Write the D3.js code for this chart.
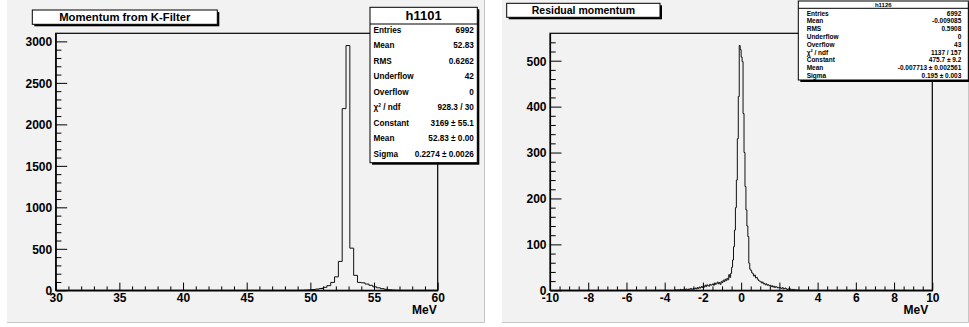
<!DOCTYPE html>
<html><head><meta charset="utf-8">
<script src="https://cdn.jsdelivr.net/npm/d3@7"></script>
<style>
body{margin:0;background:#fff;}
svg{display:block;font-family:"Liberation Sans",Arial,Helvetica,sans-serif;font-weight:bold;}
</style>
</head><body>
<svg id="c" width="969" height="327"></svg>
<script>
// ---- h1101: momentum from the K-filter, 100 bins of 0.3 MeV on [30, 60]
const kfRange = [30, 60];
const kfBinWidth = 0.3;
const kfFirstBin = 49.2;            // lower edge of the first filled bin
const kfCounts = [1,3,5,9,15,22,36,56,95,162,348,2190,2950,508,180,95,90,75,60,42,30,20,12,6,3,1];
const kfXTicks = [30,35,40,45,50,55,60];
const kfYTicks = [0,500,1000,1500,2000,2500,3000];
const kfStatLabels = ["Entries","Mean","RMS","Underflow","Overflow","χ² / ndf","Constant","Mean","Sigma"];
const kfStatValues = ["6992","52.83","0.6262","42","0","928.3 / 30","3169 ± 55.1","52.83 ± 0.00","0.2274 ± 0.0026"];

// ---- h1126: residual momentum, 400 bins of 0.05 MeV on [-10, 10]
const resRange = [-10, 10];
const resBinWidth = 0.05;
const resFirstBin = -3.5;
const resCounts = [
  0,1,0,1,1,0,2,1,1,2,
  2,1,3,2,1,3,2,4,2,3,
  4,3,5,3,6,4,7,5,8,6,
  9,7,11,8,12,10,9,13,11,12,
  14,11,16,13,15,18,14,17,13,19,
  17,22,19,24,21,26,23,34,28,37,
  50,66,95,131,180,240,330,422,533,524,508,498,385,300,226,175,140,117,59,46,
  43,38,36,31,33,27,28,24,21,20,
  19,16,18,14,15,12,14,11,12,10,
  11,8,10,7,9,6,8,7,5,6,
  6,5,4,6,3,4,5,3,2,3,
  2,3,1,2,1,2,0,1,1,0
];
const resXTicks = [-10,-8,-6,-4,-2,0,2,4,6,8,10];
const resYTicks = [0,100,200,300,400,500];
const resStatLabels = ["Entries","Mean","RMS","Underflow","Overflow","χ² / ndf","Constant","Mean","Sigma"];
const resStatValues = ["6992","-0.009085","0.5908","0","43","1137 / 157","475.7 ± 9.2","-0.007713 ± 0.002561","0.195 ± 0.003"];

const svg = d3.select("#c");
const plain = d => String(d);   // tick labels with an ASCII hyphen for negatives

// expand the filled bins into a full set of bin contents
function fullBins(range, width, first, counts) {
  const n = Math.round((range[1] - range[0]) / width);
  const off = Math.round((first - range[0]) / width);
  const out = new Array(n).fill(0);
  counts.forEach((c, i) => { out[off + i] = c; });
  return out;
}

function drawPanel(o) {
  const g = svg.append("g");
  // pad
  g.append("rect").attr("x", o.pad[0]).attr("y", 0)
    .attr("width", o.pad[1] - o.pad[0]).attr("height", o.pad[2])
    .attr("fill", "#f2f2f2");
  g.append("path")
    .attr("d", `M${o.pad[0]},${o.pad[2] - 0.5}H${o.pad[1] - 0.5}V0`)
    .attr("fill", "none").attr("stroke", "#c6c6c6").attr("stroke-width", 1);

  const f = o.frame;
  const bins = fullBins(o.range, o.bw, o.first, o.counts);
  const ymax = 1.05 * d3.max(o.counts);
  const x = d3.scaleLinear().domain(o.range).range([f.l, f.r]);
  const y = d3.scaleLinear().domain([0, ymax]).range([f.b, f.t]);

  // histogram outline
  const pts = [[o.range[0], 0]];
  bins.forEach((c, i) => {
    const lo = o.range[0] + i * o.bw;
    pts.push([lo, c], [lo + o.bw, c]);
  });
  pts.push([o.range[1], 0]);
  g.append("path")
    .attr("d", d3.line().x(d => x(d[0])).y(d => y(d[1]))(pts))
    .attr("fill", "none").attr("stroke", "#111").attr("stroke-width", 1);

  // frame
  g.append("rect").attr("x", f.l).attr("y", f.t)
    .attr("width", f.r - f.l).attr("height", f.b - f.t)
    .attr("fill", "none").attr("stroke", "#000").attr("stroke-width", 1.2);

  const fs = 12;
  // minor ticks
  const yMinor = d3.range(0, ymax, o.yMinorStep).filter(v => !o.yTicks.includes(v));
  const xMinor = d3.range(o.range[0], o.range[1] + 1e-9, o.xMinorStep)
    .map(v => +v.toFixed(6)).filter(v => !o.xTicks.includes(v));
  g.append("g").attr("transform", `translate(${f.l},0)`)
    .call(d3.axisLeft(y).tickValues(yMinor).tickSize(-5.7).tickSizeOuter(0).tickFormat(""))
    .call(s => s.select(".domain").remove())
    .selectAll("line").attr("stroke", "#000");
  g.append("g").attr("transform", `translate(0,${f.b})`)
    .call(d3.axisBottom(x).tickValues(xMinor).tickSize(-3.9).tickSizeOuter(0).tickFormat(""))
    .call(s => s.select(".domain").remove())
    .selectAll("line").attr("stroke", "#000");

  // major ticks + labels
  const ya = g.append("g").attr("transform", `translate(${f.l},0)`)
    .call(d3.axisLeft(y).tickValues(o.yTicks).tickSize(-11.5).tickSizeOuter(0).tickPadding(3.5).tickFormat(plain));
  ya.select(".domain").attr("stroke", "#000").attr("stroke-width", 1.2);
  ya.selectAll("line").attr("stroke", "#000");
  ya.selectAll("text").attr("font-size", fs).attr("fill", "#000").attr("dy", "0.36em");
  const xa = g.append("g").attr("transform", `translate(0,${f.b})`)
    .call(d3.axisBottom(x).tickValues(o.xTicks).tickSize(-7.7).tickSizeOuter(0).tickPadding(3).tickFormat(plain));
  xa.select(".domain").attr("stroke", "#000").attr("stroke-width", 1.2);
  xa.selectAll("line").attr("stroke", "#000");
  xa.selectAll("text").attr("font-size", fs).attr("fill", "#000");
  ya.attr("font-family", null); xa.attr("font-family", null);

  g.append("text").attr("x", f.r - o.unitInset).attr("y", f.b + 24)
    .attr("text-anchor", "end").attr("font-size", fs).text("MeV");

  // title box
  const t = o.title;
  g.append("rect").attr("x", t.x + 2).attr("y", t.y + 2).attr("width", t.w).attr("height", t.h).attr("fill", "#000");
  g.append("rect").attr("x", t.x).attr("y", t.y).attr("width", t.w).attr("height", t.h)
    .attr("fill", "#fff").attr("stroke", "#000").attr("stroke-width", 1);
  g.append("text").attr("x", t.x + t.w / 2).attr("y", t.y + t.h / 2 + t.fs * 0.36)
    .attr("text-anchor", "middle").attr("font-size", t.fs).text(o.titleText);

  // statistics box
  const s = o.stats;
  g.append("rect").attr("x", s.x + 2).attr("y", s.y + 2).attr("width", s.w).attr("height", s.h).attr("fill", "#000");
  g.append("rect").attr("x", s.x).attr("y", s.y).attr("width", s.w).attr("height", s.h)
    .attr("fill", "#fff").attr("stroke", "#000").attr("stroke-width", 1);
  g.append("line").attr("x1", s.x).attr("x2", s.x + s.w).attr("y1", s.y + s.head).attr("y2", s.y + s.head)
    .attr("stroke", "#000");
  g.append("text").attr("x", s.x + s.w / 2).attr("y", s.y + s.head / 2 + s.tfs * 0.36)
    .attr("text-anchor", "middle").attr("font-size", s.tfs).text(o.name);
  o.statLabels.forEach((lab, i) => {
    const cy = s.row0 + i * s.step + s.fs * 0.36;
    const tl = g.append("text").attr("x", s.x + s.padL).attr("y", cy).attr("font-size", s.fs);
    if (lab.startsWith("χ")) {
      tl.append("tspan").text("χ");
      tl.append("tspan").attr("dy", -s.fs * 0.4).attr("font-size", s.fs * 0.6).text("2");
      tl.append("tspan").attr("dy", s.fs * 0.4).text(" / ndf");
    } else tl.text(lab);
    g.append("text").attr("x", s.x + s.w - s.padR).attr("y", cy)
      .attr("text-anchor", "end").attr("font-size", s.fs).text(o.statValues[i]);
  });
}

drawPanel({
  name: "h1101", titleText: "Momentum from K-Filter",
  range: kfRange, bw: kfBinWidth, first: kfFirstBin, counts: kfCounts,
  xTicks: kfXTicks, yTicks: kfYTicks, xMinorStep: 1, yMinorStep: 100,
  statLabels: kfStatLabels, statValues: kfStatValues,
  pad: [7, 485, 323],
  frame: {l: 55.7, t: 33.3, r: 437.7, b: 290.3},
  unitInset: 1,
  title: {x: 32.3, y: 10, w: 185, h: 14.3, fs: 11.3},
  stats: {x: 370, y: 7.3, w: 107.3, h: 155.4, head: 16.7, tfs: 13, fs: 8.2,
          row0: 30, step: 15.5, padL: 3.5, padR: 3.5}
});

drawPanel({
  name: "h1126", titleText: "Residual momentum",
  range: resRange, bw: resBinWidth, first: resFirstBin, counts: resCounts,
  xTicks: resXTicks, yTicks: resYTicks, xMinorStep: 0.5, yMinorStep: 20,
  statLabels: resStatLabels, statValues: resStatValues,
  pad: [502, 969, 323],
  frame: {l: 550, t: 33.3, r: 932.3, b: 290.3},
  unitInset: 4,
  title: {x: 506.7, y: 3.3, w: 153.3, h: 14, fs: 10.5},
  stats: {x: 798.3, y: 1, w: 170, h: 79, head: 7.3, tfs: 6, fs: 6.5,
          row0: 13.3, step: 7.8, padL: 8.4, padR: 7}
});
</script>
</body></html>
